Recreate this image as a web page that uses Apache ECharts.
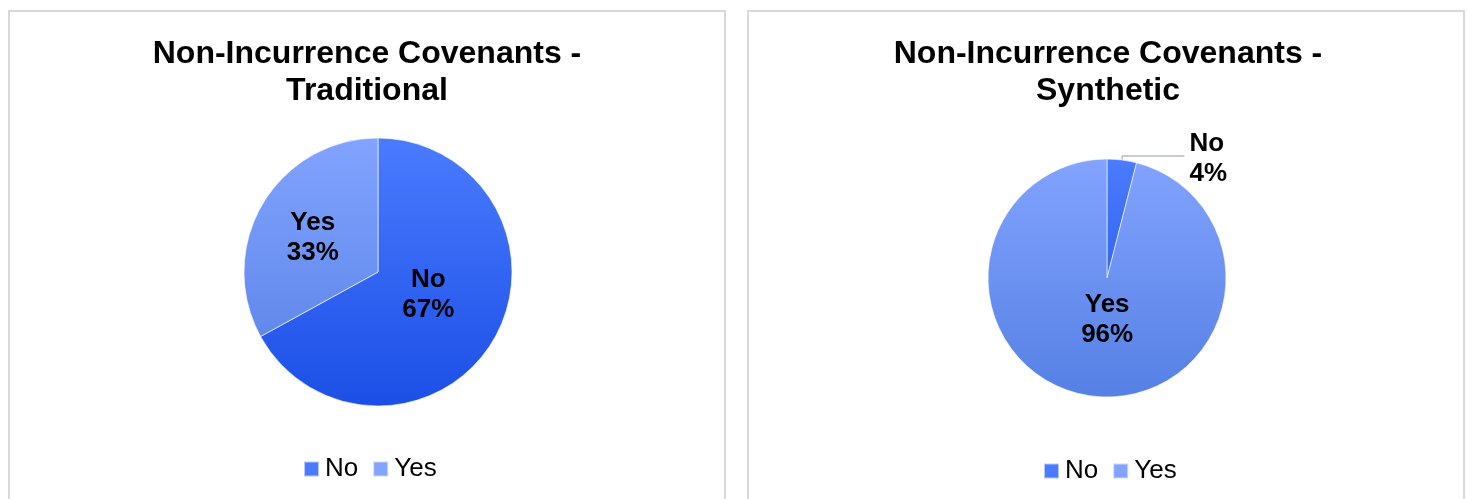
<!DOCTYPE html>
<html><head><meta charset="utf-8">
<script src="https://cdn.jsdelivr.net/npm/echarts@6/dist/echarts.min.js"></script>
<style>html,body{margin:0;padding:0;background:#fff}#c{width:1467px;height:499px}</style>
</head><body><div id="c"></div>
<script>
const categories = ['No', 'Yes'];
const traditionalValues = [67, 33];
const syntheticValues = [4, 96];
const titles = ['Non-Incurrence Covenants -\nTraditional', 'Non-Incurrence Covenants -\nSynthetic'];

const FONT = '"Liberation Sans", Arial, sans-serif';
const pies = [
  {cx: 378, cy: 272, r: 134},
  {cx: 1107, cy: 278, r: 119}
];
function grad(p, top, bottom) {
  return new echarts.graphic.LinearGradient(0, p.cy - p.r, 0, p.cy + p.r, [
    {offset: 0, color: top}, {offset: 1, color: bottom}
  ], true);
}
function colors(p) {
  return [grad(p, '#4a7bff', '#1b4fe6'), grad(p, '#82a3ff', '#5580e4')];
}
const chart = echarts.init(document.getElementById('c'), null, {renderer: 'canvas'});
const labelStyle = {
  show: true, position: 'inside', formatter: '{b}\n{d}%',
  fontFamily: FONT, fontWeight: 'bold', fontSize: 26, color: '#000', lineHeight: 30
};
function pieData(values, p) {
  const c = colors(p);
  return categories.map((n, i) => ({name: n, value: values[i], itemStyle: {color: c[i]}}));
}
const synData = pieData(syntheticValues, pies[1]);
synData[0].label = {position: 'outside', align: 'left'};
const titleStyle = {fontFamily: FONT, fontWeight: 'bold', fontSize: 32, lineHeight: 37, color: '#000'};
const legendBase = {itemWidth: 15, itemHeight: 15, itemGap: 14, icon: 'rect',
  textStyle: {fontFamily: FONT, fontSize: 26, color: '#000', padding: [0, 0, 0, 1]}};
chart.setOption({
  animation: false,
  graphic: [
    {type: 'rect', shape: {x: 9, y: 11, width: 716, height: 500}, style: {fill: 'none', stroke: '#d9d9d9', lineWidth: 2}},
    {type: 'rect', shape: {x: 748, y: 11, width: 716, height: 500}, style: {fill: 'none', stroke: '#d9d9d9', lineWidth: 2}}
  ],
  title: [
    {text: titles[0], left: 362, top: 31, textAlign: 'center', textStyle: titleStyle},
    {text: titles[1], left: 1103, top: 31, textAlign: 'center', textStyle: titleStyle}
  ],
  legend: [
    Object.assign({seriesIndex: 0, data: categories, left: 298, top: 451}, legendBase),
    Object.assign({seriesIndex: 1, data: categories, left: 1038, top: 453}, legendBase)
  ],
  series: [
    {type: 'pie', name: 'Traditional', center: [pies[0].cx, pies[0].cy], radius: pies[0].r,
     startAngle: 90, clockwise: true, avoidLabelOverlap: false,
     itemStyle: {borderColor: 'rgba(255,255,255,0.6)', borderWidth: 1},
     label: labelStyle, labelLine: {show: false},
     labelLayout: function (p) { return p.dataIndex === 0 ? {dx: -10, dy: -13} : {dx: -5, dy: 1}; },
     data: pieData(traditionalValues, pies[0])},
    {type: 'pie', name: 'Synthetic', center: [pies[1].cx, pies[1].cy], radius: pies[1].r,
     startAngle: 90, clockwise: true, avoidLabelOverlap: false,
     itemStyle: {borderColor: 'rgba(255,255,255,0.6)', borderWidth: 1},
     label: labelStyle,
     labelLine: {show: true, length: 4, length2: 62, lineStyle: {color: '#b4bccb', width: 1.5}},
     labelLayout: function (p) { return p.dataIndex === 0 ? {dx: 0, dy: 3} : {dx: 8, dy: -20}; },
     data: synData}
  ]
});
</script></body></html>
